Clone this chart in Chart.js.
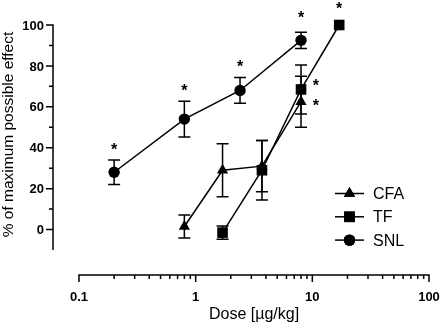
<!DOCTYPE html>
<html>
<head>
<meta charset="utf-8">
<script src="https://cdn.jsdelivr.net/npm/chart.js@4/dist/chart.umd.min.js"></script>
<style>
  body { margin: 0; background: #fff; }
</style>
</head>
<body>
<canvas id="chart" width="440" height="324"></canvas>
<script>
// Dose-response data (dose in ug/kg, % of maximum possible effect, SEM)
const seriesNames = ['CFA', 'TF', 'SNL'];
const cfaDose = [0.8, 1.7, 3.7, 8];
const cfaMean = [1.5, 29, 31, 62.5];
const cfaErr = [5.6, 13, 12.5, 12.5];
const tfDose = [1.7, 3.7, 8, 17];
const tfMean = [-1.5, 29, 68.5, 100];
const tfErr = [3.2, 14.5, 12, 0];
const snlDose = [0.2, 0.8, 2.4, 8];
const snlMean = [28, 54, 68, 92.5];
const snlErr = [6, 8.7, 6.3, 4];
// significance stars
const starDose = [0.2, 0.8, 2.4, 8, 17, 10.7, 10.7];
const starVal = [41, 69.5, 81.5, 105.5, 110, 72, 62.5];
// axis ticks
const yTicks = [0, 20, 40, 60, 80, 100];
const xTicks = [0.1, 1, 10, 100];

const FONT = '"Liberation Sans", Arial, sans-serif';

function pts(dose, mean) {
    return dose.map((d, i) => ({x: d, y: mean[i]}));
}

const errs = [
    {dose: cfaDose, mean: cfaMean, err: cfaErr},
    {dose: tfDose, mean: tfMean, err: tfErr},
    {dose: snlDose, mean: snlMean, err: snlErr}
];

const styles = [
    {pointStyle: 'triangle', radius: 6.5},
    {pointStyle: 'rect', radius: 7.5},
    {pointStyle: 'circle', radius: 5.7}
];

// error bars, drawn under the markers
const errorBars = {
    id: 'errorBars',
    beforeDatasetsDraw(chart) {
        const {ctx, scales: {x, y}} = chart;
        ctx.save();
        ctx.strokeStyle = '#000';
        ctx.lineWidth = 1.5;
        errs.forEach(s => {
            s.dose.forEach((d, i) => {
                if (!s.err[i]) return;
                const px = x.getPixelForValue(d);
                const top = y.getPixelForValue(s.mean[i] + s.err[i]);
                const bot = y.getPixelForValue(s.mean[i] - s.err[i]);
                ctx.beginPath();
                ctx.moveTo(px, top); ctx.lineTo(px, bot);
                ctx.moveTo(px - 6, top); ctx.lineTo(px + 6, top);
                ctx.moveTo(px - 6, bot); ctx.lineTo(px + 6, bot);
                ctx.stroke();
            });
        });
        ctx.restore();
    }
};

// stars, offset axes (Prism style), tick labels, titles and legend
const decorations = {
    id: 'decorations',
    afterDraw(chart) {
        const {ctx, chartArea: a, scales: {x, y}} = chart;
        ctx.save();
        ctx.fillStyle = '#000';
        ctx.font = 'bold 16px ' + FONT;
        ctx.textAlign = 'center';
        ctx.textBaseline = 'alphabetic';
        starDose.forEach((d, i) => {
            ctx.fillText('*', x.getPixelForValue(d), y.getPixelForValue(starVal[i]) + 9);
        });

        const ax = a.left - 26;
        const ay = a.bottom + 25;
        ctx.strokeStyle = '#000';
        ctx.lineWidth = 1.5;
        ctx.beginPath();
        ctx.moveTo(ax, y.getPixelForValue(100) - 0.75);
        ctx.lineTo(ax, y.getPixelForValue(-10));
        for (let v = 0; v <= 100; v += 10) {
            const py = y.getPixelForValue(v);
            ctx.moveTo(ax, py);
            ctx.lineTo(ax - (v % 20 ? 4 : 7), py);
        }
        ctx.moveTo(x.getPixelForValue(0.1) - 0.75, ay);
        ctx.lineTo(x.getPixelForValue(100) + 0.75, ay);
        [0.1, 1, 10].forEach(base => {
            for (let k = 1; k <= 9; k++) {
                const px = x.getPixelForValue(base * k);
                ctx.moveTo(px, ay);
                ctx.lineTo(px, ay + (k === 1 ? 7 : 4));
            }
        });
        ctx.moveTo(x.getPixelForValue(100), ay);
        ctx.lineTo(x.getPixelForValue(100), ay + 7);
        ctx.stroke();

        // tick labels
        ctx.font = 'bold 13px ' + FONT;
        ctx.textAlign = 'right';
        yTicks.forEach(v => ctx.fillText(String(v), ax - 9, y.getPixelForValue(v) + 4.6));
        ctx.textAlign = 'center';
        xTicks.forEach(v => ctx.fillText(String(v), x.getPixelForValue(v), ay + 25.5));

        // axis titles
        ctx.font = '16px ' + FONT;
        ctx.fillText('Dose [µg/kg]', (x.getPixelForValue(0.1) + x.getPixelForValue(100)) / 2, ay + 43.5);
        ctx.save();
        ctx.translate(13, (y.getPixelForValue(100) + y.getPixelForValue(-10)) / 2 - 3);
        ctx.rotate(-Math.PI / 2);
        ctx.font = '15.5px ' + FONT;
        ctx.fillText('% of maximum possible effect', 0, 0);
        ctx.restore();

        // legend
        ctx.font = '16px ' + FONT;
        ctx.textAlign = 'left';
        ctx.textBaseline = 'middle';
        seriesNames.forEach((name, i) => {
            const ly = 193.5 + i * 23.3;
            ctx.beginPath();
            ctx.moveTo(335, ly); ctx.lineTo(364, ly);
            ctx.stroke();
            Chart.helpers.drawPoint(ctx, {
                pointStyle: styles[i].pointStyle,
                radius: styles[i].radius,
                borderWidth: 0,
                rotation: 0
            }, 349.5, ly);
            ctx.fill();
            ctx.fillText(name, 373, ly + 1);
        });
        ctx.restore();
    }
};

const ds = [pts(cfaDose, cfaMean), pts(tfDose, tfMean), pts(snlDose, snlMean)];

new Chart(document.getElementById('chart'), {
    type: 'line',
    data: {
        datasets: seriesNames.map((name, i) => ({
            label: name,
            data: ds[i],
            borderColor: '#000',
            backgroundColor: '#000',
            borderWidth: 1.5,
            pointStyle: styles[i].pointStyle,
            pointRadius: styles[i].radius,
            pointBorderWidth: 0,
            clip: false,
            order: [1, 0, 2][i]
        }))
    },
    options: {
        responsive: false,
        animation: false,
        layout: {padding: {top: 25, right: 11, left: 79, bottom: 74}},
        plugins: {legend: {display: false}, tooltip: {enabled: false}},
        scales: {
            x: {type: 'logarithmic', min: 0.1, max: 100, display: false},
            y: {min: -10, max: 100, display: false}
        }
    },
    plugins: [errorBars, decorations]
});
</script>
</body>
</html>
